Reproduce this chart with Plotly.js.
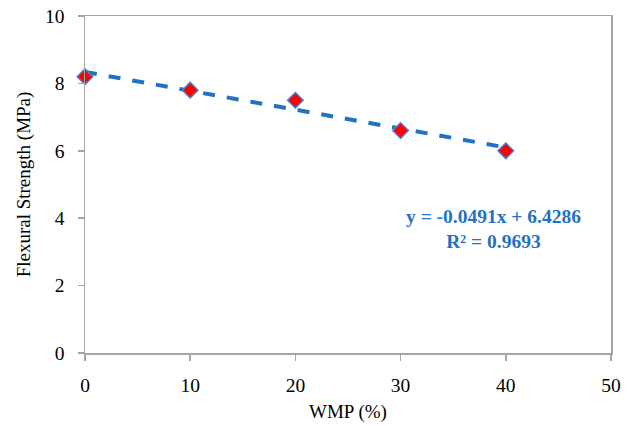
<!DOCTYPE html>
<html>
<head>
<meta charset="utf-8">
<script src="https://cdn.plot.ly/plotly-3.0.1.min.js"></script>
<style>html,body{margin:0;padding:0;background:#fff;}#chart{width:632px;height:426px;}</style>
</head>
<body>
<div id="chart"></div>
<script>
const wmp = [0, 10, 20, 30, 40];
const flexural = [8.2, 7.8, 7.5, 6.6, 6.0];
const equationText = "y = -0.0491x + 6.4286";
const r2Text = "R² = 0.9693";
const xTicks = [0, 10, 20, 30, 40, 50];
const yTicks = [0, 2, 4, 6, 8, 10];

// least-squares linear trendline from the data
const n = wmp.length;
const mx = wmp.reduce((a, b) => a + b, 0) / n;
const my = flexural.reduce((a, b) => a + b, 0) / n;
let sxy = 0, sxx = 0;
for (let i = 0; i < n; i++) { sxy += (wmp[i] - mx) * (flexural[i] - my); sxx += (wmp[i] - mx) ** 2; }
const slope = sxy / sxx, intercept = my - slope * mx;
const trendX = [Math.min(...wmp), Math.max(...wmp)];
const trendY = trendX.map(x => intercept + slope * x);

const fam = "Liberation Serif, Times New Roman, serif";
const tickFont = {family: fam, size: 19.5, color: "#000"};
const titleFont = {family: fam, size: 19, color: "#000"};
const axisCommon = {
  showgrid: false, zeroline: false, showline: true, linecolor: "#A6A6A6", linewidth: 1.5,
  mirror: true, ticks: "outside", ticklen: 6, tickcolor: "#A6A6A6", tickwidth: 1.5,
  tickfont: tickFont
};
const data = [
  {x: trendX, y: trendY, mode: "lines", type: "scatter", cliponaxis: false,
   line: {color: "#1F72C4", width: 4, dash: "dash"}, hoverinfo: "skip"},
  {x: wmp, y: flexural, mode: "markers", type: "scatter", cliponaxis: false,
   marker: {symbol: "diamond", size: 12, color: "#FF0000", line: {color: "#4A7EC8", width: 1.5}}}
];
const layout = {
  width: 632, height: 426, showlegend: false,
  paper_bgcolor: "#fff", plot_bgcolor: "#fff",
  margin: {l: 85, r: 21, t: 16, b: 73},
  font: tickFont,
  xaxis: Object.assign({}, axisCommon, {range: [0, 50], tickvals: xTicks, ticktext: xTicks.map(String),
    ticklabelstandoff: 8, title: {text: "WMP (%)", font: titleFont, standoff: 10}}),
  yaxis: Object.assign({}, axisCommon, {range: [0, 10], tickvals: yTicks, ticktext: yTicks.map(String),
    ticklabelstandoff: 9, title: {text: "Flexural Strength (MPa)", font: titleFont, standoff: 9}}),
  annotations: [
    {x: 0.776, y: 0.368, xref: "paper", yref: "paper", xanchor: "center", yanchor: "middle",
     showarrow: false, align: "center",
     text: "<b>" + equationText + "</b><br><b>" + r2Text + "</b>",
     font: {family: fam, size: 19.5, color: "#1F72C4"}}
  ]
};
Plotly.newPlot("chart", data, layout, {displayModeBar: false, staticPlot: true});
</script>
</body>
</html>
